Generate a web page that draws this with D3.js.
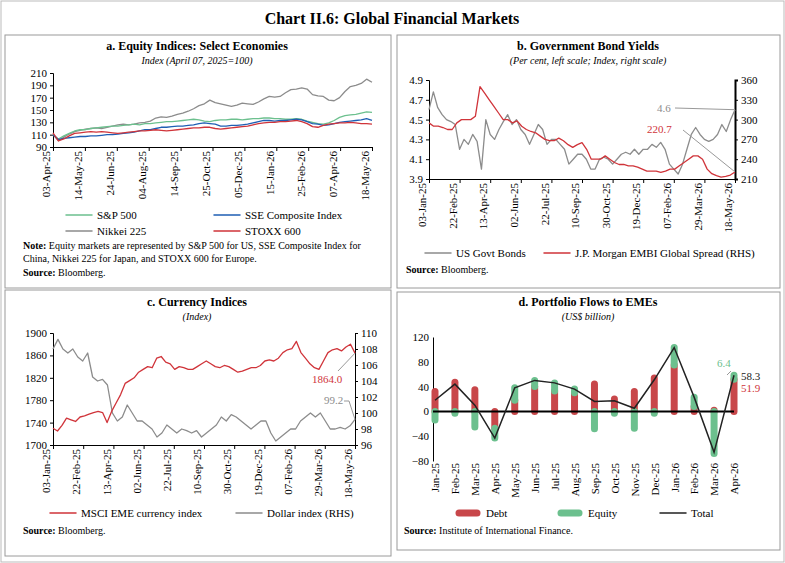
<!DOCTYPE html><html><head><meta charset="utf-8">
<script src="https://cdn.jsdelivr.net/npm/d3@7"></script>
<style>body{margin:0;background:#fff}text{font-family:"Liberation Serif","DejaVu Serif",serif}</style></head><body>
<svg id="c" width="785" height="563"></svg>
<script>
// ---------- DATA ----------
const eqTicks=["2025-04-03","2025-05-14","2025-06-24","2025-08-04","2025-09-14","2025-10-25","2025-12-05","2026-01-15","2026-02-25","2026-04-07","2026-05-18"];
const eqStart="2025-04-03", eqEnd="2026-05-18";
const sp500=[110,103,108,112,116,118,118,120,121,122,123,124,124,125,126,127,126,128,128,129,130,131,131,132,133,134,135,134,132,131,133,134,134,135,135,134,135,136,136,137,137,136,136,135,135,136,135,132,130,128,127,129,133,138,141,142,143,145,147,146];
const sse=[110,102,104,105,106,107,107,108,108,109,110,110,111,112,113,114,116,118,118,120,122,122,123,124,124,125,126,128,129,128,127,124,124,125,125,126,127,129,131,133,133,132,133,133,134,135,134,131,128,127,125,126,128,130,131,132,133,134,136,133];
const nikkei=[110,100,106,111,115,117,119,120,121,120,122,124,126,127,126,127,129,130,132,137,139,138,140,143,145,148,152,157,160,166,162,160,158,156,158,161,160,159,163,168,172,171,172,178,183,184,186,184,175,173,172,166,165,170,180,188,190,193,200,195];
const stoxx=[113,100,103,108,112,113,114,115,114,115,114,113,112,113,114,115,116,116,117,118,117,116,117,118,119,120,121,121,122,122,120,119,120,121,122,123,124,126,128,129,130,130,131,131,132,133,131,128,123,122,125,127,128,129,129,130,129,128,128,127];

const bcTicks=["2025-01-03","2025-02-22","2025-04-13","2025-06-02","2025-07-22","2025-09-10","2025-10-30","2025-12-19","2026-02-07","2026-03-29","2026-05-18"];
const bcStart="2025-01-03", bcEnd="2026-05-18";
const usBonds=[4.6,4.78,4.62,4.55,4.5,4.48,4.45,4.2,4.3,4.25,4.35,4.28,4.0,4.5,4.35,4.3,4.4,4.48,4.55,4.45,4.5,4.4,4.35,4.25,4.35,4.45,4.4,4.25,4.3,4.3,4.25,4.2,4.05,4.1,4.15,4.15,4.1,4.0,4.0,4.1,4.12,4.1,4.05,4.1,4.15,4.17,4.15,4.2,4.15,4.2,4.2,4.25,4.22,4.27,4.2,4.05,4.0,3.95,4.05,4.2,4.35,4.42,4.35,4.3,4.28,4.3,4.35,4.45,4.38,4.5,4.6];
const embi=[295,290,290,288,285,285,295,300,300,300,305,350,340,330,320,310,300,300,295,298,290,285,282,280,275,270,268,268,272,268,262,258,262,265,255,240,240,240,245,240,235,232,232,230,230,228,225,222,222,222,220,222,225,225,230,235,240,245,245,240,225,218,215,213,214,216,220.7];
const msci=[1730,1725,1735,1748,1745,1742,1750,1752,1755,1758,1760,1758,1740,1760,1775,1790,1810,1815,1820,1830,1835,1840,1838,1855,1858,1848,1845,1835,1840,1838,1835,1835,1840,1845,1850,1845,1840,1838,1842,1840,1835,1830,1832,1835,1838,1838,1842,1850,1852,1850,1855,1865,1870,1872,1885,1865,1855,1845,1838,1835,1850,1865,1870,1872,1868,1875,1880,1864];
const dollar=[108,109.2,108,107.5,108,107,106.5,107.5,104.5,104,104.2,103.5,100,99,99.5,101,100,99,99,98.5,98,97,97.5,98.5,98,97.5,98,97.8,97.5,97.8,97,97.5,98,98.5,99.5,99,99.8,99.5,99,98.5,98,98.5,99,99,97.5,96.5,97,97.5,98,98,99,99.5,100,99.5,100,99,98,98,98.2,98,98.4,99.2];

const months=["Jan-25","Feb-25","Mar-25","Apr-25","May-25","Jun-25","Jul-25","Aug-25","Sep-25","Oct-25","Nov-25","Dec-25","Jan-26","Feb-26","Mar-26","Apr-26"];
const debt=[32,47,35,-27,18,40,33,30,44,20,32,54,75,8,2,51.9];
const equity=[-14,-3,-25,-16,20,10,13,6,-28,-3,-27,-3,28,15,-68,6.4];

// ---------- DRAW ----------
const svg=d3.select("#c");
const P=d3.timeParse("%Y-%m-%d"), F=d3.timeFormat("%d-%b-%y");
const GREEN="#6cc08e", BLUE="#1f5fb4", GRAY="#8c8c8c", RED="#d0343a", DRED="#c8474a";
svg.append("rect").attr("x",1).attr("y",1).attr("width",783).attr("height",561).attr("fill","none").attr("stroke","#bbb");
svg.append("text").attr("x",392).attr("y",24).attr("text-anchor","middle").attr("font-size",16).attr("font-weight","bold").text("Chart II.6: Global Financial Markets");
[[5,35,386,253],[397,35,383,253],[5,290,386,266],[397,292,383,258]].forEach(b=>svg.append("rect").attr("x",b[0]).attr("y",b[1]).attr("width",b[2]).attr("height",b[3]).attr("fill","none").attr("stroke","#9a9a9a"));
function title(x,y,t,s){svg.append("text").attr("x",x).attr("y",y).attr("text-anchor","middle").attr("font-size",12).attr("font-weight","bold").text(t);
 svg.append("text").attr("x",x).attr("y",y+14).attr("text-anchor","middle").attr("font-size",10).attr("font-style","italic").text(s);}
function styleAxis(g){g.selectAll("text").attr("font-size",11).attr("font-family","Liberation Serif,serif").attr("fill","#000");g.select(".domain").attr("stroke","#000");g.selectAll("line").attr("stroke","#000");}
function xTimeAxis(x,y0,ticks){const g=svg.append("g").attr("transform",`translate(0,${y0})`).call(d3.axisBottom(x).tickValues(ticks.map(P)).tickFormat(F).tickSize(4));styleAxis(g);
 g.selectAll("text").attr("transform","rotate(-90)").attr("text-anchor","end").attr("dx","-4").attr("dy","-0.3em").attr("x",0).attr("y",0);}
function series(arr,x,y,s,e){const t0=P(s),t1=P(e),n=arr.length;return arr.map((v,i)=>[new Date(+t0+(t1-t0)*i/(n-1)),v]);}
function line(data,x,y,c,w){svg.append("path").datum(data).attr("fill","none").attr("stroke",c).attr("stroke-width",w||1.3).attr("stroke-linejoin","round").attr("d",d3.line().x(d=>x(d[0])).y(d=>y(d[1])));}
function legLine(x,y,c,t,w){const thick=w&&w>3;svg.append("line").attr("x1",thick?x+4:x).attr("x2",thick?x+22:x+26).attr("y1",y).attr("y2",y).attr("stroke",c).attr("stroke-width",w||1.5).attr("stroke-linecap","round");
 svg.append("text").attr("x",x+31).attr("y",y+4).attr("font-size",11).text(t);}
function note(x,y,b,t){const tx=svg.append("text").attr("x",x).attr("y",y).attr("font-size",10);tx.append("tspan").attr("font-weight","bold").text(b);tx.append("tspan").text(t);}

// Panel a
{title(197,50,"a. Equity Indices: Select Economies","Index (April 07, 2025=100)");
const x=d3.scaleTime().domain([P(eqStart),P(eqEnd)]).range([53,372]);
const y=d3.scaleLinear().domain([90,210]).range([147,73]);
const ga=svg.append("g").attr("transform","translate(53,0)").call(d3.axisLeft(y).tickValues(d3.range(90,211,20)).tickSize(3));styleAxis(ga);
xTimeAxis(x,147,eqTicks);
line(series(nikkei,x,y,eqStart,eqEnd),x,y,GRAY);line(series(sp500,x,y,eqStart,eqEnd),x,y,GREEN);
line(series(sse,x,y,eqStart,eqEnd),x,y,BLUE);line(series(stoxx,x,y,eqStart,eqEnd),x,y,RED);
legLine(66,215,GREEN,"S&P 500");legLine(214,215,BLUE,"SSE Composite Index");legLine(66,231,GRAY,"Nikkei 225");legLine(214,231,RED,"STOXX  600");
note(23,249,"Note: ","Equity markets are represented by S&P 500 for US, SSE Composite Index for");
svg.append("text").attr("x",23).attr("y",262).attr("font-size",10).text("China, Nikkei 225 for Japan, and STOXX 600 for Europe.");
note(23,276,"Source: ","Bloomberg.");}

// Panel b
{title(588,50,"b. Government Bond Yields","(Per cent, left scale; Index, right scale)");
const x=d3.scaleTime().domain([P(bcStart),P(bcEnd)]).range([429,735]);
const y=d3.scaleLinear().domain([3.9,4.9]).range([179,80]);
const y2=d3.scaleLinear().domain([210,360]).range([179,80]);
const gl=svg.append("g").attr("transform","translate(429,0)").call(d3.axisLeft(y).tickValues([3.9,4.1,4.3,4.5,4.7,4.9]).tickFormat(d3.format(".1f")).tickSize(3));styleAxis(gl);
const gr=svg.append("g").attr("transform","translate(735,0)").call(d3.axisRight(y2).tickValues(d3.range(210,361,30)).tickSize(3));styleAxis(gr);gr.select(".domain").attr("stroke-width",2);
xTimeAxis(x,179,bcTicks);
const ub=series(usBonds,x,y,bcStart,bcEnd), em=series(embi,x,y2,bcStart,bcEnd);
line(ub,x,y,GRAY);line(em,x,y2,RED);
const lu=ub[ub.length-1], le=em[em.length-1];
svg.append("line").attr("x1",675).attr("y1",108).attr("x2",x(lu[0])).attr("y2",y(lu[1])).attr("stroke","#999");
svg.append("text").attr("x",657).attr("y",112).attr("font-size",11).attr("fill",GRAY).text(lu[1].toFixed(1));
svg.append("line").attr("x1",683).attr("y1",130).attr("x2",x(le[0])).attr("y2",y2(le[1])).attr("stroke","#999");
svg.append("text").attr("x",647).attr("y",133).attr("font-size",11).attr("fill",RED).text(le[1].toFixed(1));
legLine(425,253,GRAY,"US Govt Bonds");legLine(544,253,RED,"J.P. Morgan EMBI Global Spread (RHS)");
note(406,273,"Source: ","Bloomberg.");}

// Panel c
{title(197,306,"c. Currency Indices","(Index)");
const x=d3.scaleTime().domain([P(bcStart),P(bcEnd)]).range([53,355]);
const y=d3.scaleLinear().domain([1700,1900]).range([445,333]);
const y2=d3.scaleLinear().domain([96,110]).range([445,333]);
const gl=svg.append("g").attr("transform","translate(53,0)").call(d3.axisLeft(y).tickValues(d3.range(1700,1901,40)).tickFormat(d3.format("d")).tickSize(3));styleAxis(gl);
const gr=svg.append("g").attr("transform","translate(355,0)").call(d3.axisRight(y2).tickValues(d3.range(96,111,2)).tickSize(3));styleAxis(gr);
xTimeAxis(x,445,bcTicks);
const ms=series(msci,x,y,bcStart,bcEnd), dl=series(dollar,x,y2,bcStart,bcEnd);
line(dl,x,y2,GRAY);line(ms,x,y,RED);
const lm=ms[ms.length-1], ld=dl[dl.length-1];
svg.append("line").attr("x1",338).attr("y1",371).attr("x2",x(lm[0])).attr("y2",y(lm[1])).attr("stroke","#999");
svg.append("text").attr("x",312).attr("y",383).attr("font-size",11).attr("fill",RED).text(lm[1].toFixed(1));
svg.append("path").attr("d",`M344,401 L349,401 L${x(ld[0])},${y2(ld[1])}`).attr("fill","none").attr("stroke","#999");
svg.append("text").attr("x",324).attr("y",404).attr("font-size",11).attr("fill",GRAY).text(ld[1].toFixed(1));
legLine(50,513,RED,"MSCI EME currency index");legLine(236,513,GRAY,"Dollar index (RHS)");
note(23,534,"Source: ","Bloomberg.");}

// Panel d
{title(588,306,"d. Portfolio Flows to EMEs","(US$ billion)");
const x=d3.scalePoint().domain(months).range([435,734]);
const y=d3.scaleLinear().domain([-80,120]).range([461,337]);
const gl=svg.append("g").attr("transform","translate(433,0)").call(d3.axisLeft(y).tickValues(d3.range(-80,121,40)).tickSize(0).tickPadding(4));styleAxis(gl);
const gx=svg.append("g").attr("transform","translate(0,461)").call(d3.axisBottom(x).tickSize(0));styleAxis(gx);gx.select(".domain").remove();
gx.selectAll("text").attr("transform","rotate(-90)").attr("text-anchor","end").attr("dx","-2").attr("dy","0.35em").attr("x",0).attr("y",0);
const segs=[];months.forEach((m,i)=>{let pos=0,neg=0;[[debt[i],DRED],[equity[i],GREEN]].forEach(([v,c])=>{if(v>=0){segs.push([m,pos,pos+v,c]);pos+=v;}else{segs.push([m,neg,neg+v,c]);neg+=v;}});});
svg.append("g").selectAll("line").data(segs).join("line").attr("x1",d=>x(d[0])).attr("x2",d=>x(d[0])).attr("y1",d=>y(d[1])).attr("y2",d=>y(d[2]))
 .attr("stroke",d=>d[3]).attr("stroke-width",7).attr("stroke-linecap","round");
svg.append("line").attr("x1",433).attr("x2",734).attr("y1",y(0)).attr("y2",y(0)).attr("stroke","#000").attr("stroke-width",2);
const tot=months.map((m,i)=>[m,debt[i]+equity[i]]);
svg.append("path").datum(tot).attr("fill","none").attr("stroke","#222").attr("stroke-width",1.5).attr("d",d3.line().x(d=>x(d[0])).y(d=>y(d[1])));
svg.append("line").attr("x1",727).attr("y1",375).attr("x2",731).attr("y2",371).attr("stroke","#999");
svg.append("text").attr("x",717).attr("y",367).attr("font-size",11).attr("fill",GREEN).text(equity[15].toFixed(1));
svg.append("text").attr("x",741).attr("y",380).attr("font-size",11).attr("fill","#222").text(tot[15][1].toFixed(1));
svg.append("text").attr("x",741).attr("y",392).attr("font-size",11).attr("fill",RED).text(debt[15].toFixed(1));
legLine(455,513,DRED,"Debt",7);legLine(557,513,GREEN,"Equity",7);legLine(660,513,"#222","Total",1.5);
note(404,534,"Source: ","Institute of International Finance.");}
</script></body></html>
